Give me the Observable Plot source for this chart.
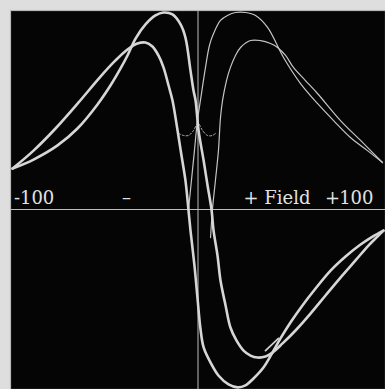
<!DOCTYPE html>
<html>
<head>
<meta charset="utf-8">
<script src="https://cdn.jsdelivr.net/npm/d3@7"></script>
<script src="https://cdn.jsdelivr.net/npm/@observablehq/plot@0.6"></script>
<style>
  html, body { margin: 0; padding: 0; background: #dedede; }
  #chart svg { display: block; }
</style>
</head>
<body>
<div id="chart"></div>
<script>
// Thick curve A (tall positive peak, shallow negative trough)
const fieldA  = [-98.9,-87.7,-74.9,-64.3,-53.6,-46.7,-41.3,-37.6,-33.3,-28.0,-22.7,-18.4,-13.6,-9.3,-6.7,-4.0,-2.4,-1.3,0.3,3.0,5.1,7.2,8.3,10.4,12.0,14.7,17.3,20.5,24.3,28.0,31.7,36.0,39.7,45.1,52.0,60.0,68.0,76.0,84.0,90.9,95.7,98.9];
const signalA = [20.6,25.1,32.2,40.7,52.8,62.3,70.9,77.4,85.9,93.0,97.5,99.0,98.0,93.0,86.4,69.8,59.8,54.8,39.7,24.6,12.1,0,-10.6,-23.1,-35.7,-48.2,-59.3,-65.8,-70.9,-73.4,-74.4,-73.9,-71.9,-67.3,-60.8,-52.3,-43.2,-34.2,-25.6,-18.1,-13.6,-10.6];

// Thick curve B (lower positive peak, deep negative trough)
const fieldB  = [-98.9,-87.7,-76.0,-63.7,-52.0,-44.0,-37.6,-32.3,-28.0,-24.3,-21.1,-18.4,-15.7,-13.6,-10.9,-8.8,-6.7,-5.1,-4.0,-1.9,-0.3,1.3,3.0,6.7,10.9,16.3,21.1,25.3,29.6,34.9,39.7,44.0,49.3,55.7,62.7,70.7,78.7,86.7,93.1,98.9];
const signalB = [20.6,29.6,40.7,53.8,66.8,74.9,80.4,83.4,83.9,81.9,77.4,71.4,62.3,54.8,39.7,27.1,14.6,0,-10.6,-28.1,-44.2,-59.8,-69.3,-76.9,-83.4,-87.9,-89.4,-88.4,-84.9,-79.4,-71.9,-64.8,-56.8,-48.2,-39.7,-30.7,-23.6,-17.6,-13.6,-10.6];

// Thin curve 1 (tall hump, right side)
const fieldT1  = [-5.1,-3.5,-1.9,-0.3,1.3,4.0,6.1,8.3,12.0,15.7,20.0,25.3,30.7,37.1,45.6,54.7,63.7,72.3,81.3,90.4,98.4];
const signalT1 = [-0.5,14.6,29.6,44.7,54.8,71.4,82.4,88.4,95.0,97.5,99.0,99.0,97.5,91.5,76.4,63.3,53.3,44.7,36.2,29.6,23.6];

// Thin curve 2 (lower hump, right side)
const fieldT2  = [6.7,7.7,9.3,10.9,12.0,13.1,15.2,17.3,20.0,22.7,28.0,33.3,38.7,42.4,46.7,50.9,57.3,63.7,76.0,86.7,98.4];
const signalT2 = [-14.1,0,14.6,29.6,46.2,54.8,64.8,71.4,77.4,81.4,84.9,84.9,83.4,81.4,77.4,71.4,64.8,58.3,44.7,34.7,23.6];

// Dotted dips near the centre
const fieldDL  = [-10.4,-7.7,-5.1,-2.4,-0.8];
const signalDL = [38.2,37.2,37.2,39.7,42.7];
const fieldDR  = [0.8,2.4,5.1,7.7,9.3];
const signalDR = [42.7,39.7,37.2,37.2,38.2];

// Short starting stroke in the lower right
const fieldS  = [36.0,42.9];
const signalS = [-70.9,-64.8];

// Axis labels
const labelText   = ["-100", "\u2013", "+ Field", "+", "100"];
const labelField  = [-98.2, -38.1, 24.3, 71.7, 93.6];
const labelSignal = [3.0, 3.0, 3.0, 3.0, 3.0];
const labelAnchor = ["start", "middle", "start", "middle", "end"];

const toRows = (fs, vs, name) => fs.map((f, i) => ({field: f, signal: vs[i], series: name}));
const labels = labelText.map((t, i) => ({text: t, field: labelField[i], signal: labelSignal[i], anchor: labelAnchor[i]}));

const lineOpts = (stroke, w, extra = {}) => ({x: "field", y: "signal", stroke, strokeWidth: w, curve: "catmull-rom", strokeLinecap: "round", ...extra});
const textMark = anchor => Plot.text(labels.filter(d => d.anchor === anchor), {
  x: "field", y: "signal", text: "text",
  textAnchor: anchor,
  fill: "#e2e2e2",
  fontSize: 18,
  fontFamily: "DejaVu Serif",
  lineAnchor: "bottom"
});

const chart = Plot.plot({
  width: 385,
  height: 389,
  marginTop: 10,
  marginLeft: 10,
  marginRight: 0,
  marginBottom: 0,
  x: {domain: [-100, 100], axis: null},
  y: {domain: [-90.45, 100], axis: null},
  style: {background: "transparent"},
  marks: [
    Plot.frame({fill: "#050505", stroke: "#b8b8b8", strokeWidth: 1.2}),
    Plot.ruleY([0], {stroke: "#bdbdbd", strokeWidth: 1}),
    Plot.ruleX([0], {stroke: "#bdbdbd", strokeWidth: 1}),
    Plot.line(toRows(fieldT1, signalT1, "T1"), lineOpts("#c4c4c4", 1.2)),
    Plot.line(toRows(fieldT2, signalT2, "T2"), lineOpts("#c4c4c4", 1.2)),
    Plot.line(toRows(fieldDL, signalDL, "DL"), lineOpts("#b0b0b0", 1, {strokeDasharray: "2,2"})),
    Plot.line(toRows(fieldDR, signalDR, "DR"), lineOpts("#b0b0b0", 1, {strokeDasharray: "2,2"})),
    Plot.line(toRows(fieldA, signalA, "A"), lineOpts("#d6d6d6", 2.6)),
    Plot.line(toRows(fieldB, signalB, "B"), lineOpts("#d6d6d6", 2.6)),
    Plot.line(toRows(fieldS, signalS, "S"), lineOpts("#d0d0d0", 1.8)),
    textMark("start"),
    textMark("middle"),
    textMark("end")
  ]
});
document.getElementById("chart").appendChild(chart);
</script>
</body>
</html>
